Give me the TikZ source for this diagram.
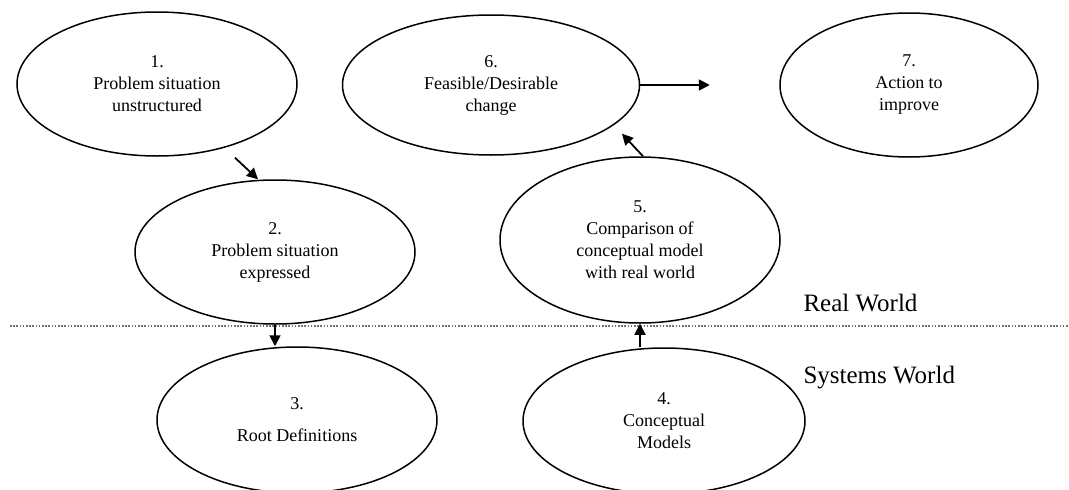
\documentclass[tikz,border=0pt]{standalone}
\usepackage{fontspec}
\setmainfont{Liberation Serif}
\usetikzlibrary{positioning, arrows.meta, shapes.geometric, calc}

\begin{document}
\begin{tikzpicture}[
                    x=1pt, y=-1pt,
                    % GLOBAL CFG
                    font=\fontsize{18}{22}\selectfont,
                    >={Triangle[length=11pt,width=11pt]},
                    % Styles
                    stage/.style={% For the seven stages
                            ellipse,
                            draw,
                            line width=1.5pt,
                            inner sep=0pt,
                            align=center,
                            minimum width=280pt,
                            minimum height=144pt,
                        },
                    flow/.style={% Arrows from stage to stage
                            ->,
                            line width=1.8pt,
                        },
                    divider/.style={% Dotted line between the two worlds
                            line width=2pt,
                            black!55,
                            dash pattern=on 1.6pt off 1.6pt,
                        },
                    world/.style={% Names of the two worlds
                            anchor=base west,
                            font=\fontsize{25}{30}\selectfont,
                        },
                ]

                \useasboundingbox (0,0) rectangle (1069,490);

                % Draw the line between real world and systems world
                \coordinate (divL) at (10,326);
                \coordinate (divR) at (1069,326);
                \draw [divider] (divL) -- (divR);

                % Draw the stages named s#
                \node [stage] (s1) at (157,84) {1.\\Problem situation\\unstructured};
                \node [stage] (s2) at (275,252) {2.\\Problem situation\\expressed};
                \node [stage, minimum height=146pt] (s3) at (297,420) {3.\\[10pt]Root Definitions};
                \node [stage, minimum width=282pt, minimum height=146pt] (s4) at (664,421) {4.\\Conceptual\\Models};
                \node [stage, minimum height=166pt] (s5) at (640,240) {5.\\Comparison of\\conceptual model\\with real world};
                \node [stage, minimum width=297pt, minimum height=140pt] (s6) at (491,85) {6.\\Feasible/Desirable\\change};
                \node [stage, minimum width=258pt] (s7) at (909,85) {7.\\Action to\\improve};

                % Names of the worlds
                \node [world] (real) at (800,311) {Real World};
                \node [world] (sys) at (800,383) {Systems World};

                % Drawing arrows
                \draw [flow] ([shift={(78,1)}]s1.south) -- ([xshift=-17pt]s2.north);
                \draw [flow] (s2.south) -- (s2.south |- s3.north);
                \draw [flow] (s5.south |- s4.north) -- (s5.south);
                \draw [flow] ([xshift=3pt]s5.north) -- ([shift={(131,-22)}]s6.south);
                \coordinate (mid67) at ($(s6.east)!0.5!(s7.west)$);
                \draw [flow] (s6.east) -- (mid67);

            \end{tikzpicture}
\end{document}
